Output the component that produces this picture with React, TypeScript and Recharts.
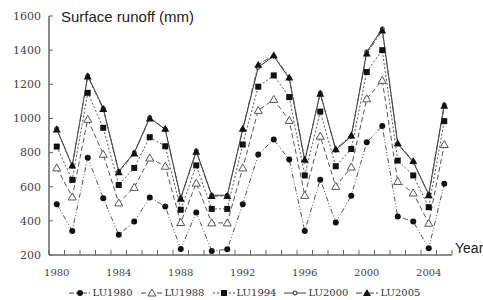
import { LineChart, Line, XAxis, YAxis, Legend } from "recharts";

const years = [1980, 1981, 1982, 1983, 1984, 1985, 1986, 1987, 1988, 1989, 1990, 1991, 1992, 1993, 1994, 1995, 1996, 1997, 1998, 1999, 2000, 2001, 2002, 2003, 2004, 2005];
const lu1980 = [498, 341, 770, 533, 318, 396, 537, 484, 235, 449, 224, 233, 498, 788, 876, 759, 341, 641, 390, 547, 860, 955, 425, 396, 239, 617];
const lu1988 = [710, 540, 995, 790, 505, 596, 768, 720, 390, 621, 388, 388, 710, 1047, 1111, 988, 549, 896, 602, 715, 1115, 1223, 631, 563, 386, 847];
const lu1994 = [835, 640, 1150, 945, 610, 710, 890, 837, 465, 725, 470, 470, 847, 1186, 1252, 1125, 666, 1040, 720, 821, 1272, 1400, 753, 666, 480, 984];
const lu2000 = [940, 720, 1250, 1060, 690, 800, 1005, 935, 535, 810, 550, 550, 935, 1300, 1365, 1235, 750, 1150, 815, 895, 1390, 1525, 850, 745, 555, 1080];
const lu2005 = [935, 725, 1245, 1055, 685, 795, 1000, 940, 530, 805, 545, 545, 940, 1315, 1370, 1240, 760, 1145, 820, 900, 1380, 1515, 855, 750, 550, 1075];

const yTicks = [200, 400, 600, 800, 1000, 1200, 1400, 1600];
const xLabelTicks = [1980, 1984, 1988, 1992, 1996, 2000, 2004];

const data = years.map((year, i) => ({
  year,
  LU1980: lu1980[i],
  LU1988: lu1988[i],
  LU1994: lu1994[i],
  LU2000: lu2000[i],
  LU2005: lu2005[i],
}));

// x ticks: marks between the years (x.5), labels every 4th year
const xTicks = [...years.flatMap((y) => [y - 0.5, y]), 2005.5];

const serif = "'DejaVu Serif', serif";
const sans = "'Liberation Sans', Arial, sans-serif";
const axisColor = "#666";

type Shape = "circle" | "smallCircle" | "square" | "triangle" | "openTriangle";

function marker(shape: Shape, cx: number, cy: number, key?: string | number) {
  switch (shape) {
    case "circle":
      return <circle key={key} cx={cx} cy={cy} r={3} fill="#111" />;
    case "smallCircle":
      return <circle key={key} cx={cx} cy={cy} r={2} fill="#fff" stroke="#222" strokeWidth={1} />;
    case "square":
      return <rect key={key} x={cx - 3} y={cy - 3} width={6} height={6} fill="#111" />;
    case "triangle":
      return <polygon key={key} points={`${cx},${cy - 4} ${cx - 4},${cy + 3} ${cx + 4},${cy + 3}`} fill="#111" />;
    case "openTriangle":
      return (
        <polygon
          key={key}
          points={`${cx},${cy - 4} ${cx - 4},${cy + 3} ${cx + 4},${cy + 3}`}
          fill="#fff"
          stroke="#555"
          strokeWidth={1}
        />
      );
  }
}

const dotFor = (shape: Shape) => (props: any) => {
  const { cx, cy, index } = props;
  if (cx == null || cy == null) return <g key={index} />;
  return marker(shape, cx, cy, index);
};

// tick mark pointing into the plot, label only on whole years divisible by 4
function XTick(props: any) {
  const { x, y, payload } = props;
  const v = payload.value;
  if (v % 1 !== 0) {
    return <line x1={x} x2={x} y1={y - 5} y2={y} stroke={axisColor} strokeWidth={1} />;
  }
  if (!xLabelTicks.includes(v)) return <g />;
  return (
    <text x={x} y={y + 21} textAnchor="middle" fill="#444" fontSize={10} fontFamily={serif}>
      {v}
    </text>
  );
}

function YTick(props: any) {
  const { x, y, payload } = props;
  return (
    <g>
      <line x1={x} x2={x + 4} y1={y} y2={y} stroke={axisColor} strokeWidth={1} />
      <text x={x - 8} y={y} dy="0.35em" textAnchor="end" fill="#444" fontSize={11} fontFamily={serif}>
        {payload.value}
      </text>
    </g>
  );
}

const series = [
  { key: "LU1980", dash: "5 2 1 2 1 2", shape: "circle" as Shape },
  { key: "LU1988", dash: "5 3", shape: "openTriangle" as Shape },
  { key: "LU1994", dash: "2 2", shape: "square" as Shape },
  { key: "LU2000", dash: "", shape: "smallCircle" as Shape },
  { key: "LU2005", dash: "6 2 2 2", shape: "triangle" as Shape },
];

function LegendBox() {
  return (
    <div
      style={{
        display: "flex",
        justifyContent: "center",
        alignItems: "flex-end",
        height: 25,
        paddingLeft: 14,
        boxSizing: "border-box",
        paddingBottom: 1,
      }}
    >
      {series.map((s) => (
        <div key={s.key} style={{ display: "flex", alignItems: "center", marginRight: 8 }}>
          <svg width={22} height={10} style={{ marginRight: 2 }}>
            <line x1={0} y1={5} x2={22} y2={5} stroke="#444" strokeWidth={1} strokeDasharray={s.dash || undefined} />
            {marker(s.shape, 11, 5)}
          </svg>
          <span style={{ fontFamily: serif, fontSize: 10, color: "#333", lineHeight: "12px" }}>{s.key}</span>
        </div>
      ))}
    </div>
  );
}

export default function App() {
  return (
    <div style={{ position: "absolute", left: 0, top: 0, width: 483, height: 300, background: "#fff" }}>
      <LineChart width={483} height={300} data={data} margin={{ top: 16, right: 31, left: 0, bottom: 0 }}>
        <XAxis
          dataKey="year"
          type="number"
          domain={[1979.5, 2005.5]}
          allowDataOverflow
          ticks={xTicks}
          interval={0}
          height={20}
          tickSize={0}
          tickMargin={0}
          tickLine={false}
          axisLine={{ stroke: axisColor, strokeWidth: 1.5 }}
          tick={<XTick />}
        />
        <YAxis
          domain={[200, 1600]}
          ticks={yTicks}
          interval={0}
          width={49}
          tickSize={0}
          tickMargin={0}
          tickLine={false}
          axisLine={{ stroke: axisColor, strokeWidth: 1.5 }}
          tick={<YTick />}
        />
        <Legend
          verticalAlign="bottom"
          wrapperStyle={{ left: 0, width: 483 }}
          content={() => <LegendBox />}
        />
        {series.map((s) => (
          <Line
            key={s.key}
            type="linear"
            dataKey={s.key}
            stroke={s.key === "LU2000" ? "#333" : "#555"}
            strokeWidth={1}
            strokeDasharray={s.dash || undefined}
            dot={dotFor(s.shape)}
            activeDot={false}
            isAnimationActive={false}
          />
        ))}
      </LineChart>
      <div
        style={{
          position: "absolute",
          left: 61,
          top: 8,
          fontFamily: sans,
          fontSize: 15,
          color: "#222",
          lineHeight: "18px",
          whiteSpace: "nowrap",
        }}
      >
        Surface runoff (mm)
      </div>
      <div
        style={{
          position: "absolute",
          left: 455,
          top: 240,
          fontFamily: sans,
          fontSize: 14,
          color: "#222",
          lineHeight: "17px",
          whiteSpace: "nowrap",
        }}
      >
        Year
      </div>
    </div>
  );
}
